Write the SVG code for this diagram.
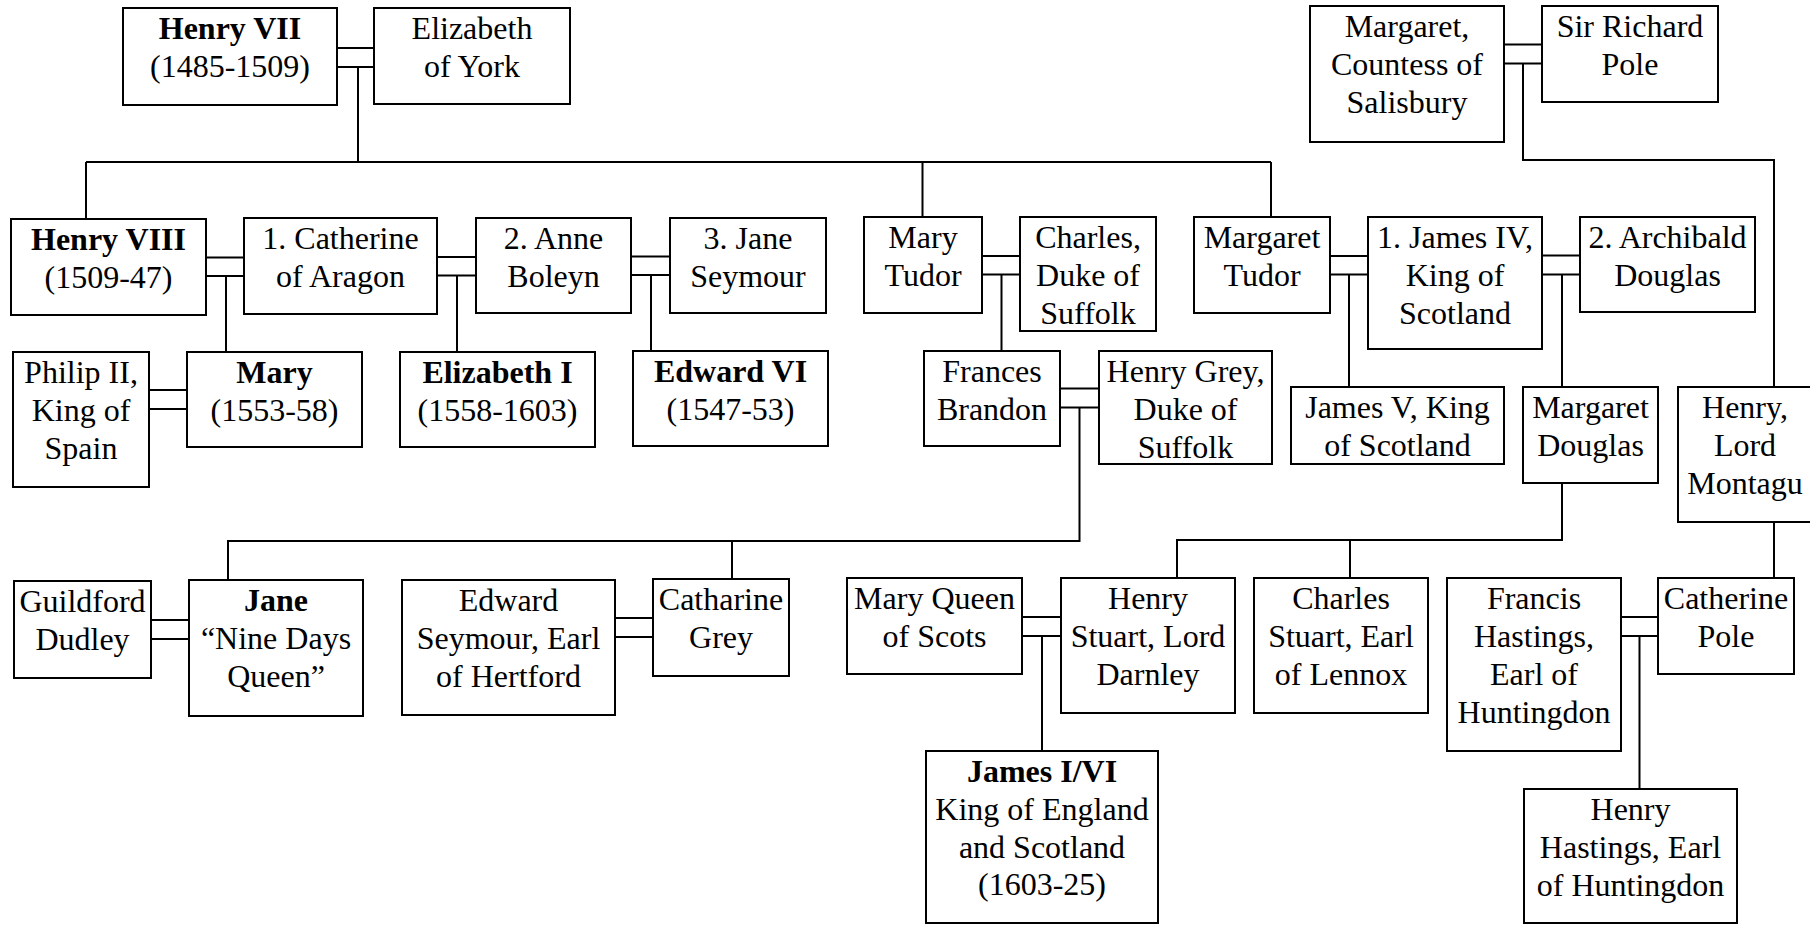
<svg xmlns="http://www.w3.org/2000/svg" width="1810" height="925" viewBox="0 0 1810 925">
<style>
rect.n{fill:#fff;stroke:#000;stroke-width:2}
text{font-family:"Liberation Serif","Times New Roman",serif;font-size:32px;fill:#000;text-anchor:middle}
.b{font-weight:bold}
#connectors path{fill:none;stroke:#000;stroke-width:2}
</style>
<rect width="1810" height="925" fill="#fff"/>
<g id="connectors">
<path d="M337 48H374M337 67H374M358 67V162"/>
<path d="M86 162H1271M86 162V219M922.5 162V217M1271 162V217"/>
<path d="M206 257.5H244M206 276H244M226 276V352"/>
<path d="M437 257H476M437 275.5H476M457 275.5V352"/>
<path d="M631 256.5H670M631 275H670M651 275V351"/>
<path d="M982 256H1020M982 274.5H1020M1001.5 274.5V351"/>
<path d="M1330 256H1368M1330 274.5H1368M1349 274.5V387"/>
<path d="M1542 255.5H1580M1542 274.5H1580M1562 274.5V387"/>
<path d="M1504 44.5H1542M1504 63.5H1542M1523 63.5V160H1774V387"/>
<path d="M149 390H187M149 409H187"/>
<path d="M1060 388.5H1099M1060 407.5H1099M1079.5 407.5V541H228V580M732 541V579"/>
<path d="M1562 483V540H1177V578M1350 540V578"/>
<path d="M1774 522V578"/>
<path d="M151 620H189M151 639H189"/>
<path d="M615 618H653M615 637H653"/>
<path d="M1022 617H1061M1022 636H1061M1042 636V751"/>
<path d="M1621 617H1658M1621 636H1658M1639.5 636V789"/>
</g>
<g id="henry7"><rect class="n" x="123" y="8" width="214" height="97"/><text><tspan class="b" x="230" y="39">Henry VII</tspan><tspan x="230" y="77">(1485-1509)</tspan></text></g>
<g id="elizabethYork"><rect class="n" x="374" y="8" width="196" height="96"/><text><tspan x="472" y="39">Elizabeth</tspan><tspan x="472" y="77">of York</tspan></text></g>
<g id="countess"><rect class="n" x="1310" y="6" width="194" height="136"/><text><tspan x="1407" y="37">Margaret,</tspan><tspan x="1407" y="75">Countess of</tspan><tspan x="1407" y="113">Salisbury</tspan></text></g>
<g id="richardPole"><rect class="n" x="1542" y="6" width="176" height="96"/><text><tspan x="1630" y="37">Sir Richard</tspan><tspan x="1630" y="75">Pole</tspan></text></g>
<g id="henry8"><rect class="n" x="11" y="219" width="195" height="96"/><text><tspan class="b" x="108.5" y="250">Henry VIII</tspan><tspan x="108.5" y="288">(1509-47)</tspan></text></g>
<g id="catherineAragon"><rect class="n" x="244" y="218" width="193" height="96"/><text><tspan x="340.5" y="249">1. Catherine</tspan><tspan x="340.5" y="287">of Aragon</tspan></text></g>
<g id="anneBoleyn"><rect class="n" x="476" y="218" width="155" height="95"/><text><tspan x="553.5" y="249">2. Anne</tspan><tspan x="553.5" y="287">Boleyn</tspan></text></g>
<g id="janeSeymour"><rect class="n" x="670" y="218" width="156" height="95"/><text><tspan x="748" y="249">3. Jane</tspan><tspan x="748" y="287">Seymour</tspan></text></g>
<g id="maryTudor"><rect class="n" x="864" y="217" width="118" height="96"/><text><tspan x="923" y="248">Mary</tspan><tspan x="923" y="286">Tudor</tspan></text></g>
<g id="charlesSuffolk"><rect class="n" x="1020" y="217" width="136" height="114"/><text><tspan x="1088" y="248">Charles,</tspan><tspan x="1088" y="286">Duke of</tspan><tspan x="1088" y="324">Suffolk</tspan></text></g>
<g id="margaretTudor"><rect class="n" x="1194" y="217" width="136" height="96"/><text><tspan x="1262" y="248">Margaret</tspan><tspan x="1262" y="286">Tudor</tspan></text></g>
<g id="jamesIV"><rect class="n" x="1368" y="217" width="174" height="132"/><text><tspan x="1455" y="248">1. James IV,</tspan><tspan x="1455" y="286">King of</tspan><tspan x="1455" y="324">Scotland</tspan></text></g>
<g id="archibald"><rect class="n" x="1580" y="217" width="175" height="95"/><text><tspan x="1667.5" y="248">2. Archibald</tspan><tspan x="1667.5" y="286">Douglas</tspan></text></g>
<g id="philip"><rect class="n" x="13" y="352" width="136" height="135"/><text><tspan x="81" y="383">Philip II,</tspan><tspan x="81" y="421">King of</tspan><tspan x="81" y="459">Spain</tspan></text></g>
<g id="maryI"><rect class="n" x="187" y="352" width="175" height="95"/><text><tspan class="b" x="274.5" y="383">Mary</tspan><tspan x="274.5" y="421">(1553-58)</tspan></text></g>
<g id="elizabethI"><rect class="n" x="400" y="352" width="195" height="95"/><text><tspan class="b" x="497.5" y="383">Elizabeth I</tspan><tspan x="497.5" y="421">(1558-1603)</tspan></text></g>
<g id="edwardVI"><rect class="n" x="633" y="351" width="195" height="95"/><text><tspan class="b" x="730.5" y="382">Edward VI</tspan><tspan x="730.5" y="420">(1547-53)</tspan></text></g>
<g id="frances"><rect class="n" x="924" y="351" width="136" height="95"/><text><tspan x="992" y="382">Frances</tspan><tspan x="992" y="420">Brandon</tspan></text></g>
<g id="henryGrey"><rect class="n" x="1099" y="351" width="173" height="113"/><text><tspan x="1185.5" y="382">Henry Grey,</tspan><tspan x="1185.5" y="420">Duke of</tspan><tspan x="1185.5" y="458">Suffolk</tspan></text></g>
<g id="jamesV"><rect class="n" x="1291" y="387" width="213" height="77"/><text><tspan x="1397.5" y="418">James V, King</tspan><tspan x="1397.5" y="456">of Scotland</tspan></text></g>
<g id="margaretDouglas"><rect class="n" x="1523" y="387" width="135" height="96"/><text><tspan x="1590.5" y="418">Margaret</tspan><tspan x="1590.5" y="456">Douglas</tspan></text></g>
<g id="montagu"><rect class="n" x="1678" y="387" width="134" height="135"/><text><tspan x="1745" y="418">Henry,</tspan><tspan x="1745" y="456">Lord</tspan><tspan x="1745" y="494">Montagu</tspan></text></g>
<g id="guildford"><rect class="n" x="14" y="581" width="137" height="97"/><text><tspan x="82.5" y="612">Guildford</tspan><tspan x="82.5" y="650">Dudley</tspan></text></g>
<g id="jane"><rect class="n" x="189" y="580" width="174" height="136"/><text><tspan class="b" x="276" y="611">Jane</tspan><tspan x="276" y="649">“Nine Days</tspan><tspan x="276" y="687">Queen”</tspan></text></g>
<g id="edwardSeymour"><rect class="n" x="402" y="580" width="213" height="135"/><text><tspan x="508.5" y="611">Edward</tspan><tspan x="508.5" y="649">Seymour, Earl</tspan><tspan x="508.5" y="687">of Hertford</tspan></text></g>
<g id="catharineGrey"><rect class="n" x="653" y="579" width="136" height="97"/><text><tspan x="721" y="610">Catharine</tspan><tspan x="721" y="648">Grey</tspan></text></g>
<g id="maryQoS"><rect class="n" x="847" y="578" width="175" height="96"/><text><tspan x="934.5" y="609">Mary Queen</tspan><tspan x="934.5" y="647">of Scots</tspan></text></g>
<g id="henryStuart"><rect class="n" x="1061" y="578" width="174" height="135"/><text><tspan x="1148" y="609">Henry</tspan><tspan x="1148" y="647">Stuart, Lord</tspan><tspan x="1148" y="685">Darnley</tspan></text></g>
<g id="charlesStuart"><rect class="n" x="1254" y="578" width="174" height="135"/><text><tspan x="1341" y="609">Charles</tspan><tspan x="1341" y="647">Stuart, Earl</tspan><tspan x="1341" y="685">of Lennox</tspan></text></g>
<g id="francisHastings"><rect class="n" x="1447" y="578" width="174" height="173"/><text><tspan x="1534" y="609">Francis</tspan><tspan x="1534" y="647">Hastings,</tspan><tspan x="1534" y="685">Earl of</tspan><tspan x="1534" y="723">Huntingdon</tspan></text></g>
<g id="catherinePole"><rect class="n" x="1658" y="578" width="136" height="96"/><text><tspan x="1726" y="609">Catherine</tspan><tspan x="1726" y="647">Pole</tspan></text></g>
<g id="jamesI"><rect class="n" x="926" y="751" width="232" height="172"/><text><tspan class="b" x="1042" y="782">James I/VI</tspan><tspan x="1042" y="820">King of England</tspan><tspan x="1042" y="858">and Scotland</tspan><tspan x="1042" y="895">(1603-25)</tspan></text></g>
<g id="henryHastings"><rect class="n" x="1524" y="789" width="213" height="134"/><text><tspan x="1630.5" y="820">Henry</tspan><tspan x="1630.5" y="858">Hastings, Earl</tspan><tspan x="1630.5" y="896">of Huntingdon</tspan></text></g>
</svg>
